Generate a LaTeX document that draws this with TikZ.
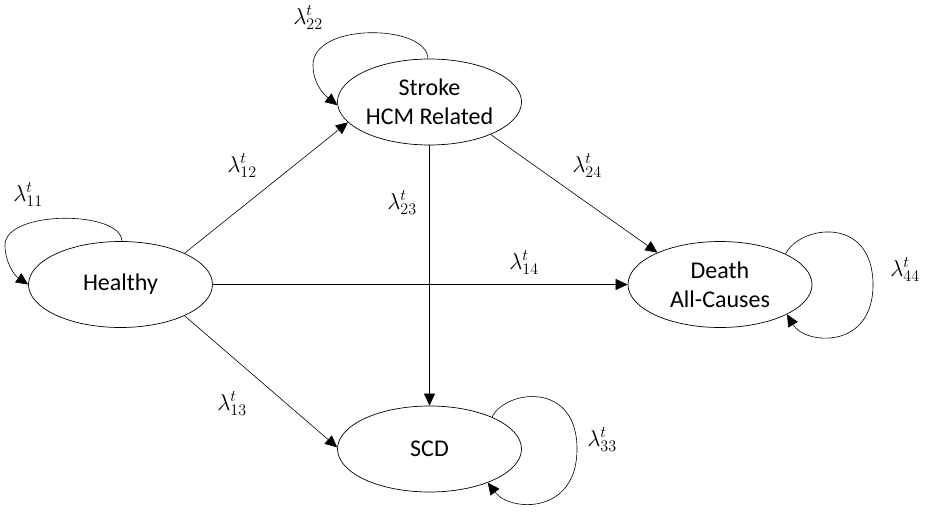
\RequirePackage{fix-cm}
\documentclass[tikz,border=0pt]{standalone}
\usepackage{fontspec}
\setmainfont{Carlito}
\usetikzlibrary{shapes.geometric,arrows.meta}
\tikzset{
  state/.style={ellipse, draw, line width=0.7pt, minimum width=184pt, minimum height=86pt,
    inner sep=0pt, align=center, font=\fontsize{24}{29}\selectfont},
  edge/.style={draw, line width=0.6pt, -{Triangle[length=12pt,width=11pt]}},
  lab/.style={font=\fontsize{23}{27}\selectfont, inner sep=0pt}
}
\begin{document}
\begin{tikzpicture}[x=1pt,y=-1pt]
\useasboundingbox (0,0) rectangle (936,511);
\node[state] (h) at (120.5,284.5) {Healthy};
\node[state] (s) at (429.5,102) {Stroke\\HCM Related};
\node[state] (d) at (720,284.5) {Death\\All-Causes};
\node[state] (c) at (429.5,449) {SCD};

\draw[edge] (h.26) -- (s.194);
\draw[edge] (h.0) -- (d.180);
\draw[edge] (h.334) -- (c.179);
\draw[edge] (s.270) -- (c.90);
\draw[edge] (s.332) -- (d.153);

\draw[edge] (h.88) .. controls (121,210) and (5,210) .. (5,245) .. controls (5,262) and (14,275) .. (h.180);
\draw[edge] (s.92) .. controls (427,24) and (313,22) .. (313,65) .. controls (313,82) and (322,93) .. (s.182);
\draw[edge] (d.25) .. controls (800,225) and (873,215) .. (873,285) .. controls (873,350) and (805,345) .. (d.336);
\draw[edge] (c.27) .. controls (505,390) and (577,380) .. (577,449) .. controls (577,515) and (510,512) .. (c.330);

\node[lab] (l11) at (28,195) {$\lambda_{11}^{t}$};
\node[lab] (l22) at (308,18) {$\lambda_{22}^{t}$};
\node[lab] (l12) at (242,166) {$\lambda_{12}^{t}$};
\node[lab] (l23) at (402,203) {$\lambda_{23}^{t}$};
\node[lab] (l24) at (587,166) {$\lambda_{24}^{t}$};
\node[lab] (l14) at (524,263) {$\lambda_{14}^{t}$};
\node[lab] (l13) at (232,404) {$\lambda_{13}^{t}$};
\node[lab] (l44) at (905,270) {$\lambda_{44}^{t}$};
\node[lab] (l33) at (602,440) {$\lambda_{33}^{t}$};
\end{tikzpicture}
\end{document}
